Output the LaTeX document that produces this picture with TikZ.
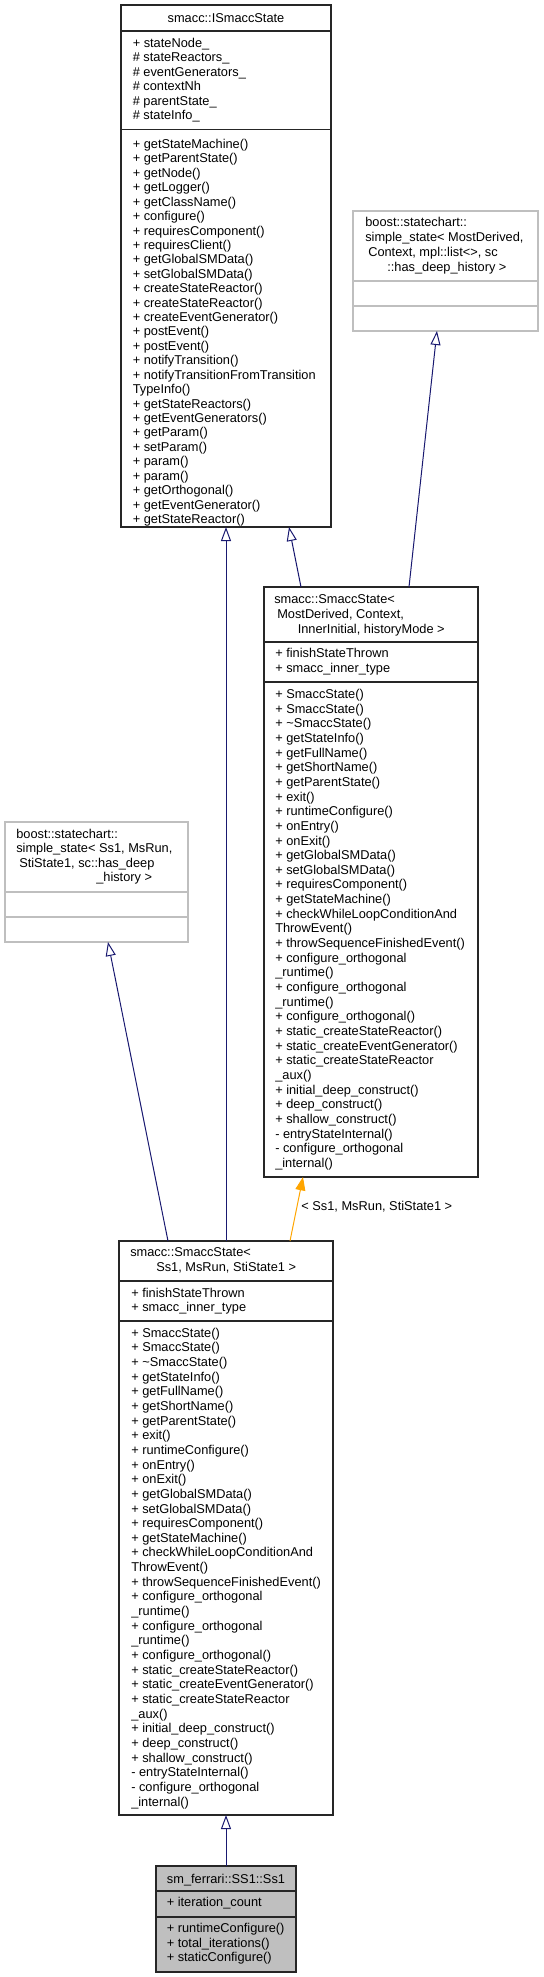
\documentclass[tikz,border=0pt]{standalone}
\usepackage{fontspec}
\setmainfont{Liberation Sans}
\usetikzlibrary{arrows.meta,positioning}

\definecolor{edgeblue}{HTML}{191970}
\definecolor{tplorange}{HTML}{FFA500}
\definecolor{undocgrey}{HTML}{BFBFBF}

% members shared by both SmaccState boxes
\newcommand{\smaccstatemembers}{+ SmaccState(), + SmaccState(), + \textasciitilde SmaccState(), + getStateInfo(), + getFullName(), + getShortName(), + getParentState(), + exit(), + runtimeConfigure(), + onEntry(), + onExit(), + getGlobalSMData(), + setGlobalSMData(), + requiresComponent(), + getStateMachine(), + checkWhileLoopConditionAnd, ThrowEvent(), + throwSequenceFinishedEvent(), + configure\_orthogonal, \_runtime(), + configure\_orthogonal, \_runtime(), + configure\_orthogonal(), + static\_createStateReactor(), + static\_createEventGenerator(), + static\_createStateReactor, \_aux(), + initial\_deep\_construct(), + deep\_construct(), + shallow\_construct(), - entryStateInternal(), - configure\_orthogonal, \_internal()}

\begin{document}
\begin{tikzpicture}[x=0.75pt,y=-0.75pt]
			\tikzstyle{Box}		= [rectangle, draw=black!85, line width=0.9pt, inner sep=0pt, outer sep=0pt]
			\tikzstyle{Undoc}	= [draw=undocgrey]
			\tikzstyle{Current}	= [fill=undocgrey]
			\tikzstyle{Sep}		= [draw=black!85, line width=0.9pt]
			\tikzstyle{SepU}	= [draw=undocgrey, line width=0.9pt]
			\tikzstyle{Member}	= [anchor=base west, inner sep=0pt, font=\fontsize{9.6}{11}\selectfont]
			\tikzstyle{Title}	= [anchor=base, inner sep=0pt, font=\fontsize{9.6}{11}\selectfont]
			\tikzstyle{Inherit}	= [-{Triangle[open, length=10.5pt, width=7.5pt]}, edgeblue, line width=0.75pt]
			\tikzstyle{Instance}	= [-{Triangle[length=10pt, width=7.5pt]}, tplorange, line width=0.75pt]

			\useasboundingbox (0,0) rectangle (543,1977);

			% class boxes
			\node (ismacc) at (226,266) [Box, minimum width=157.5pt, minimum height=391.5pt] {};
			\node (sshist) at (445.5,271) [Box][Undoc, minimum width=138.75pt, minimum height=90pt] {};
			\node (smaccmd) at (371,882) [Box, minimum width=160.5pt, minimum height=442.5pt] {};
			\node (ssss1) at (96.5,882) [Box][Undoc, minimum width=137.25pt, minimum height=90pt] {};
			\node (smaccss1) at (226,1528) [Box, minimum width=160.5pt, minimum height=430.5pt] {};
			\node (ss1) at (226,1919) [Box][Current, minimum width=105pt, minimum height=79.5pt] {};

			% compartments
			\draw [Sep] (ismacc.west |- 0,31) -- (ismacc.east |- 0,31);
			\draw [Sep] (ismacc.west |- 0,129.5) -- (ismacc.east |- 0,129.5);
			\draw [SepU] (sshist.west |- 0,281) -- (sshist.east |- 0,281);
			\draw [SepU] (sshist.west |- 0,306) -- (sshist.east |- 0,306);
			\draw [Sep] (smaccmd.west |- 0,642) -- (smaccmd.east |- 0,642);
			\draw [Sep] (smaccmd.west |- 0,682) -- (smaccmd.east |- 0,682);
			\draw [SepU] (ssss1.west |- 0,892) -- (ssss1.east |- 0,892);
			\draw [SepU] (ssss1.west |- 0,917) -- (ssss1.east |- 0,917);
			\draw [Sep] (smaccss1.west |- 0,1281) -- (smaccss1.east |- 0,1281);
			\draw [Sep] (smaccss1.west |- 0,1321) -- (smaccss1.east |- 0,1321);
			\draw [Sep] (ss1.west |- 0,1891) -- (ss1.east |- 0,1891);
			\draw [Sep] (ss1.west |- 0,1917) -- (ss1.east |- 0,1917);

			% smacc::ISmaccState
			\node (ist) at (226,22.5) [Title] {smacc::ISmaccState};
			\foreach \t [count=\i from 0] in {+ stateNode\_, \# stateReactors\_, \# eventGenerators\_, \# contextNh, \# parentState\_, \# stateInfo\_}
				\node (isa\i) at (132.5,47.5+\i*14.45) [Member] {\t};
			\foreach \t [count=\i from 0] in {+ getStateMachine(), + getParentState(), + getNode(), + getLogger(), + getClassName(), + configure(), + requiresComponent(), + requiresClient(), + getGlobalSMData(), + setGlobalSMData(), + createStateReactor(), + createStateReactor(), + createEventGenerator(), + postEvent(), + postEvent(), + notifyTransition(), + notifyTransitionFromTransition, TypeInfo(), + getStateReactors(), + getEventGenerators(), + getParam(), + setParam(), + param(), + param(), + getOrthogonal(), + getEventGenerator(), + getStateReactor()}
				\node (ism\i) at (132.5,148.5+\i*14.42) [Member] {\t};

			% boost::statechart::simple_state (template)
			\node (sht0) at (365,226.5) [Member] {boost::statechart::};
			\node (sht1) at (365,241.5) [Member] {simple\_state< MostDerived,};
			\node (sht2) at (368,256.5) [Member] {Context, mpl::list<>, sc};
			\node (sht3) at (387,271.5) [Member] {::has\_deep\_history >};

			% smacc::SmaccState (template)
			\node (smt0) at (274,603.8) [Member] {smacc::SmaccState<};
			\node (smt1) at (277,618.5) [Member] {MostDerived, Context,};
			\node (smt2) at (297.5,633.1) [Member] {InnerInitial, historyMode >};
			\node (sma0) at (275,657.8) [Member] {+ finishStateThrown};
			\node (sma1) at (275,672.4) [Member] {+ smacc\_inner\_type};
			\foreach \t [count=\i from 0] in \smaccstatemembers
				\node (smm\i) at (275,698.5+\i*14.65) [Member] {\t};

			% boost::statechart::simple_state< Ss1, ... >
			\node (sst0) at (16,838) [Member] {boost::statechart::};
			\node (sst1) at (16,852.5) [Member] {simple\_state< Ss1, MsRun,};
			\node (sst2) at (19,867) [Member] {StiState1, sc::has\_deep};
			\node (sst3) at (96,881.5) [Member] {\_history >};

			% smacc::SmaccState< Ss1, MsRun, StiState1 >
			\node (sct0) at (130,1256.8) [Member] {smacc::SmaccState<};
			\node (sct1) at (156,1271.3) [Member] {Ss1, MsRun, StiState1 >};
			\node (sca0) at (131,1297.2) [Member] {+ finishStateThrown};
			\node (sca1) at (131,1311.8) [Member] {+ smacc\_inner\_type};
			\foreach \t [count=\i from 0] in \smaccstatemembers
				\node (scm\i) at (131,1337.2+\i*14.65) [Member] {\t};

			% sm_ferrari::SS1::Ss1
			\node (sft) at (226,1883.5) [Title] {sm\_ferrari::SS1::Ss1};
			\node (sfa0) at (166.5,1906.8) [Member] {+ iteration\_count};
			\node (sfm0) at (166.5,1932.8) [Member] {+ runtimeConfigure()};
			\node (sfm1) at (166.5,1947.3) [Member] {+ total\_iterations()};
			\node (sfm2) at (166.5,1961.8) [Member] {+ staticConfigure()};

			% inheritance
			\draw [Inherit] (smaccss1.north) -- (ismacc.south);
			\draw [Inherit] ([xshift=-52.5pt]smaccmd.north) -- ([xshift=47.25pt]ismacc.south);
			\draw [Inherit] ([xshift=28.5pt]smaccmd.north) -- ([xshift=-6.4pt]sshist.south);
			\draw [Inherit] ([xshift=-43.5pt]smaccss1.north) -- ([xshift=8.6pt]ssss1.south);
			\draw [Inherit] (ss1.north) -- (smaccss1.south);
			\draw [Instance] ([xshift=48pt]smaccss1.north) -- node (ss1args) [pos=0.53, right, inner sep=3pt, text=black, font=\fontsize{9.6}{11}\selectfont] {< Ss1, MsRun, StiState1 >} ([xshift=-51pt]smaccmd.south);
\end{tikzpicture}
\end{document}
